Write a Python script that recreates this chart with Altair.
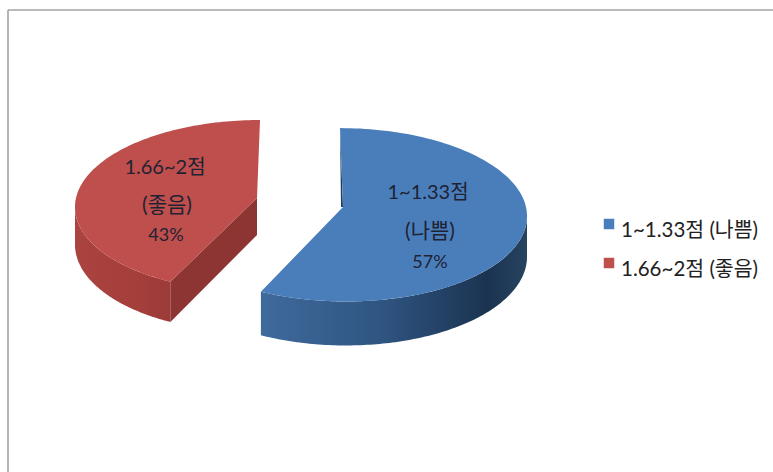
import math
import altair as alt
import pandas as pd

# Shares of each score band, in percent
categories = ["1~1.33점 (나쁨)", "1.66~2점 (좋음)"]
slice_lines = [["1~1.33점", "(나쁨)"], ["1.66~2점", "(좋음)"]]
shares = [57, 43]

# Drawing styles for the two exploded wedges
BLUE = dict(cx=343, cy=207, rx=183, ry=86, depth=40, shear=3, top="#4A7EBB",
            wall=[(0.0, "#3F6A9C"), (0.45, "#2F5582"), (0.85, "#1B3350"), (1.0, "#26435F")])
RED = dict(cx=257, cy=198, rx=181, ry=85, depth=37, shear=-3, top="#BE4F4C",
           wall=[(0.0, "#AB4340"), (0.6, "#A53F3C"), (1.0, "#9C3B38")])
RED_CUT = "#8C3532"
BLUE_CUT = "#21405F"
PERSPECTIVE = 0.09


def point(style, angle_deg, radius=1.0, drop=0.0):
    """Map a clockwise-from-north angle on the unit disc to the tilted view."""
    a = math.radians(angle_deg)
    u, v = math.sin(a) * radius, -math.cos(a) * radius
    s = 1 / (1 - PERSPECTIVE * v)
    x = style["cx"] + style["rx"] * u * s + style["shear"] * v
    y = style["cy"] + style["ry"] * v * s + drop * s
    return [x, y]


def sweep(start, end, steps=120):
    return [start + (end - start) * i / steps for i in range(steps + 1)]


def polygon(ring, fill):
    """One geoshape layer drawn in pixel coordinates; fill may be a gradient."""
    shape = {
        "type": "Feature",
        "properties": {},
        "geometry": {"type": "Polygon", "coordinates": [ring + [ring[0]]]},
    }
    return (
        alt.Chart(alt.Data(values=[shape]))
        .mark_geoshape(fill=fill, stroke=None)
        .project(type="identity", scale=1, translate=[0, 0])
    )


def wall(style, start, end):
    angles = sweep(start, end)
    ring = [point(style, a) for a in angles]
    ring += [point(style, a, drop=style["depth"]) for a in reversed(angles)]
    gradient = alt.Gradient(
        gradient="linear", x1=0, x2=1, y1=0, y2=0,
        stops=[alt.GradientStop(offset=o, color=c) for o, c in style["wall"]],
    )
    return polygon(ring, gradient)


def top_face(style, start, end):
    ring = [point(style, a) for a in sweep(start, end)]
    ring.append(point(style, 0, radius=0))
    return polygon(ring, style["top"])


# Both wedges run clockwise from twelve o'clock, sized by their share
boundary = 360 * shares[0] / sum(shares)
apex_red = point(RED, 0, radius=0)
apex_blue = point(BLUE, 0, radius=0)

pie_layers = [
    # Red wedge: outer wall, cut face towards the viewer, top
    wall(RED, boundary, 265),
    polygon([apex_red, point(RED, boundary), point(RED, boundary, drop=RED["depth"]),
             point(RED, 0, radius=0, drop=RED["depth"])], RED_CUT),
    top_face(RED, boundary, 360),
    # Blue wedge: outer wall, thin sliver of the far cut face, top
    wall(BLUE, boundary, 95),
    polygon([point(BLUE, 0), apex_blue, [apex_blue[0] - 2, apex_blue[1]]], BLUE_CUT),
    top_face(BLUE, 0, boundary),
]

FONT = "Lato, 'Noto Sans CJK KR'"
INK = "#1E2233"


def label(text, x, y, size=18, align="center", color=INK):
    return (
        alt.Chart(pd.DataFrame({"t": [text]}))
        .mark_text(font=FONT, fontSize=size, align=align, baseline="middle", color=color)
        .encode(text="t:N", x=alt.value(x), y=alt.value(y))
    )


def swatch(color, x, y):
    return (
        alt.Chart(pd.DataFrame({"c": [color]}))
        .mark_square(size=110, color=color, opacity=1, filled=True)
        .encode(x=alt.value(x), y=alt.value(y))
    )


def frame(**channels):
    return (
        alt.Chart(pd.DataFrame({"k": [0]}))
        .mark_rule(color="#A3A3A3", strokeWidth=1.6)
        .encode(**channels)
    )


texts = [
    label(slice_lines[0][0], 428, 193, size=20),
    label(slice_lines[0][1], 430, 232, size=21),
    label(f"{shares[0]}%", 430, 263),
    label(slice_lines[1][0], 165, 168, size=20),
    label(slice_lines[1][1], 167, 206, size=21),
    label(f"{shares[1]}%", 166, 236),
    label(categories[0], 621, 231, size=20.5, align="left", color="#222222"),
    label(categories[1], 621, 270, size=20.5, align="left", color="#222222"),
]

chart = (
    alt.layer(
        frame(x=alt.value(8), y=alt.value(10), y2=alt.value(472)),
        frame(x=alt.value(8), x2=alt.value(773), y=alt.value(10)),
        *pie_layers,
        swatch("#4A7EBB", 609, 224),
        swatch("#BE4F4C", 609, 263),
        *texts,
    )
    .properties(width=773, height=472, padding=0, background="white",
                autosize=alt.AutoSizeParams(type="none"))
    .configure_view(stroke=None)
)

chart.save("out.html", embed_options={"renderer": "svg", "actions": False})
